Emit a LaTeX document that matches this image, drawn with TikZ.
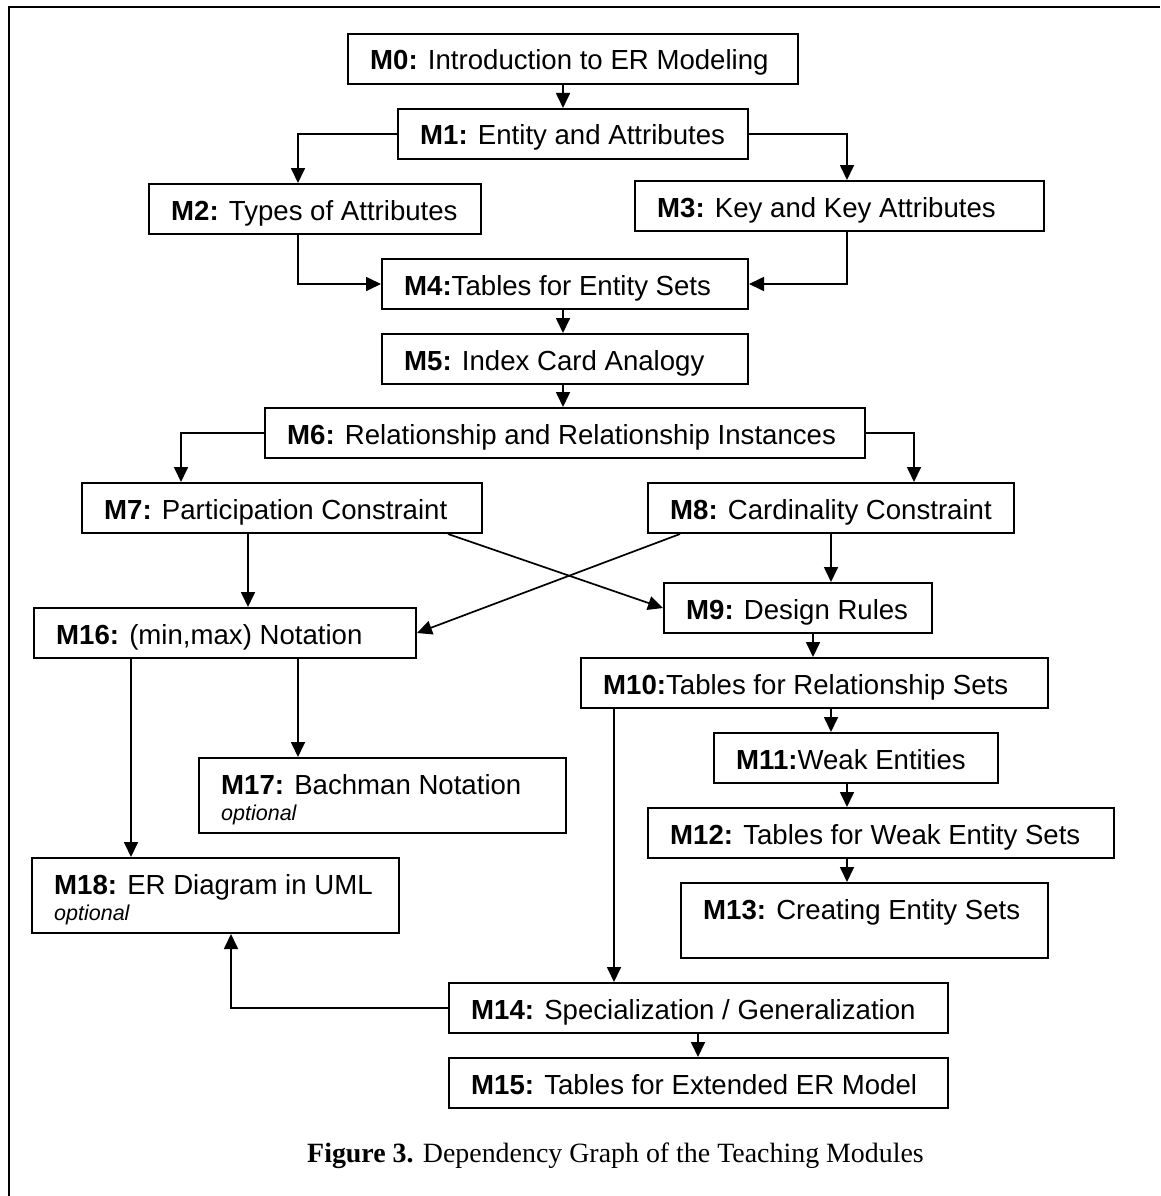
\documentclass[tikz,border=0pt]{standalone}
\usepackage{fontspec}
\setmainfont{Liberation Sans}
\newfontfamily\capfont{Liberation Serif}
\usetikzlibrary{arrows.meta,calc}
\begin{document}
\begin{tikzpicture}[x=1pt,y=1pt,
  mbox/.style={draw, line width=2pt, inner sep=0pt, anchor=north west, minimum height=50pt},
  tallbox/.style={mbox, minimum height=75pt},
  mtext/.style={anchor=base west, inner sep=0pt, font=\fontsize{27.6}{30}\selectfont},
  opttext/.style={anchor=base west, inner sep=0pt, font=\fontsize{21.5}{26}\selectfont\itshape},
  conn/.style={line width=1.7pt, -{Triangle[length=15pt,width=14pt]}},
  framel/.style={line width=2.5pt},
  captext/.style={anchor=base west, inner sep=0pt, font=\capfont\fontsize{27.9}{30}\selectfont}]
\useasboundingbox (0,0) rectangle (1160,-1196);
\draw[framel] (9,-1196) -- (9,-7) -- (1160,-7);

% boxes
\node[mbox, minimum width=450pt] (M0) at (347,-33) {};
\node[mbox, minimum width=350pt] (M1) at (397,-108) {};
\node[mbox, minimum width=332pt] (M2) at (148,-183) {};
\node[mbox, minimum width=409pt] (M3) at (634,-180) {};
\node[mbox, minimum width=366pt] (M4) at (381,-258) {};
\node[mbox, minimum width=366pt] (M5) at (381,-333) {};
\node[mbox, minimum width=600pt] (M6) at (264,-407) {};
\node[mbox, minimum width=400pt] (M7) at (81,-482) {};
\node[mbox, minimum width=366pt] (M8) at (647,-482) {};
\node[mbox, minimum width=268pt] (M9) at (663,-582) {};
\node[mbox, minimum width=467pt] (M10) at (580,-657) {};
\node[mbox, minimum width=284pt] (M11) at (713,-732) {};
\node[mbox, minimum width=466pt] (M12) at (647,-807) {};
\node[tallbox, minimum width=367pt] (M13) at (680,-882) {};
\node[mbox, minimum width=499pt] (M14) at (448,-982) {};
\node[mbox, minimum width=499pt] (M15) at (448,-1057) {};
\node[mbox, minimum width=382pt] (M16) at (33,-607) {};
\node[tallbox, minimum width=367pt] (M17) at (198,-757) {};
\node[tallbox, minimum width=367pt] (M18) at (31,-857) {};

% texts
\node[mtext] (M0t) at ([shift={(23pt,-37pt)}]M0.north west) {\textbf{M0:} Introduction to ER Modeling};
\node[mtext] (M1t) at ([shift={(23pt,-37pt)}]M1.north west) {\textbf{M1:} Entity and Attributes};
\node[mtext] (M2t) at ([shift={(23pt,-37pt)}]M2.north west) {\textbf{M2:} Types of Attributes};
\node[mtext] (M3t) at ([shift={(23pt,-37pt)}]M3.north west) {\textbf{M3:} Key and Key Attributes};
\node[mtext] (M4t) at ([shift={(23pt,-37pt)}]M4.north west) {\textbf{M4:}Tables for Entity Sets};
\node[mtext] (M5t) at ([shift={(23pt,-37pt)}]M5.north west) {\textbf{M5:} Index Card Analogy};
\node[mtext] (M6t) at ([shift={(23pt,-37pt)}]M6.north west) {\textbf{M6:} Relationship and Relationship Instances};
\node[mtext] (M7t) at ([shift={(23pt,-37pt)}]M7.north west) {\textbf{M7:} Participation Constraint};
\node[mtext] (M8t) at ([shift={(23pt,-37pt)}]M8.north west) {\textbf{M8:} Cardinality Constraint};
\node[mtext] (M9t) at ([shift={(23pt,-37pt)}]M9.north west) {\textbf{M9:} Design Rules};
\node[mtext] (M10t) at ([shift={(23pt,-37pt)}]M10.north west) {\textbf{M10:}Tables for Relationship Sets};
\node[mtext] (M11t) at ([shift={(23pt,-37pt)}]M11.north west) {\textbf{M11:}Weak Entities};
\node[mtext] (M12t) at ([shift={(23pt,-37pt)}]M12.north west) {\textbf{M12:} Tables for Weak Entity Sets};
\node[mtext] (M13t) at ([shift={(23pt,-37pt)}]M13.north west) {\textbf{M13:} Creating Entity Sets};
\node[mtext] (M14t) at ([shift={(23pt,-37pt)}]M14.north west) {\textbf{M14:} Specialization / Generalization};
\node[mtext] (M15t) at ([shift={(23pt,-37pt)}]M15.north west) {\textbf{M15:} Tables for Extended ER Model};
\node[mtext] (M16t) at ([shift={(23pt,-37pt)}]M16.north west) {\textbf{M16:} (min,max) Notation};
\node[mtext] (M17t) at ([shift={(23pt,-37pt)}]M17.north west) {\textbf{M17:} Bachman Notation};
\node[opttext] (M17o) at ([shift={(23pt,-63pt)}]M17.north west) {optional};
\node[mtext] (M18t) at ([shift={(23pt,-37pt)}]M18.north west) {\textbf{M18:} ER Diagram in UML};
\node[opttext] (M18o) at ([shift={(23pt,-63pt)}]M18.north west) {optional};

% caption
\node[captext] (cap) at (307,-1162) {\textbf{Figure 3.} Dependency Graph of the Teaching Modules};

% connector start points
\coordinate (s0) at ([xshift=216pt]M0.south west);
\coordinate (s2) at ([xshift=150pt]M2.south west);
\coordinate (s3) at ([xshift=213pt]M3.south west);
\coordinate (s4) at ([xshift=182pt]M4.south west);
\coordinate (s5) at ([xshift=182pt]M5.south west);
\coordinate (s7a) at ([xshift=167pt]M7.south west);
\coordinate (s7b) at ([xshift=367pt]M7.south west);
\coordinate (s8a) at ([xshift=33pt]M8.south west);
\coordinate (s8b) at ([xshift=184pt]M8.south west);
\coordinate (s9) at ([xshift=150pt]M9.south west);
\coordinate (s10a) at ([xshift=251pt]M10.south west);
\coordinate (s10b) at ([xshift=34pt]M10.south west);
\coordinate (s11) at ([xshift=134pt]M11.south west);
\coordinate (s12) at ([xshift=200pt]M12.south west);
\coordinate (s14) at ([xshift=250pt]M14.south west);
\coordinate (s16a) at ([xshift=265pt]M16.south west);
\coordinate (s16b) at ([xshift=98pt]M16.south west);
\coordinate (t2) at ([xshift=150pt]M2.north west);
\coordinate (t3) at ([xshift=213pt]M3.north west);
\coordinate (t7) at ([xshift=100pt]M7.north west);
\coordinate (t8) at ([xshift=267pt]M8.north west);
\coordinate (t18) at ([xshift=200pt]M18.south west);

% connectors
\draw[conn] (s0) -- (s0 |- M1.north);
\draw[conn] (M1.west) -| (t2);
\draw[conn] (M1.east) -| (t3);
\draw[conn] (s2) |- (M4.west);
\draw[conn] (s3) |- (M4.east);
\draw[conn] (s4) -- (s4 |- M5.north);
\draw[conn] (s5) -- (s5 |- M6.north);
\draw[conn] (M6.west) -| (t7);
\draw[conn] (M6.east) -| (t8);
\draw[conn] (s7a) -- (s7a |- M16.north);
\draw[conn] (s7b) -- (M9.west);
\draw[conn] (s8a) -- (M16.east);
\draw[conn] (s8b) -- (s8b |- M9.north);
\draw[conn] (s9) -- (s9 |- M10.north);
\draw[conn] (s10a) -- (s10a |- M11.north);
\draw[conn] (s10b) -- (s10b |- M14.north);
\draw[conn] (s11) -- (s11 |- M12.north);
\draw[conn] (s12) -- (s12 |- M13.north);
\draw[conn] (s14) -- (s14 |- M15.north);
\draw[conn] (M14.west) -| (t18);
\draw[conn] (s16a) -- (s16a |- M17.north);
\draw[conn] (s16b) -- (s16b |- M18.north);
\end{tikzpicture}
\end{document}
